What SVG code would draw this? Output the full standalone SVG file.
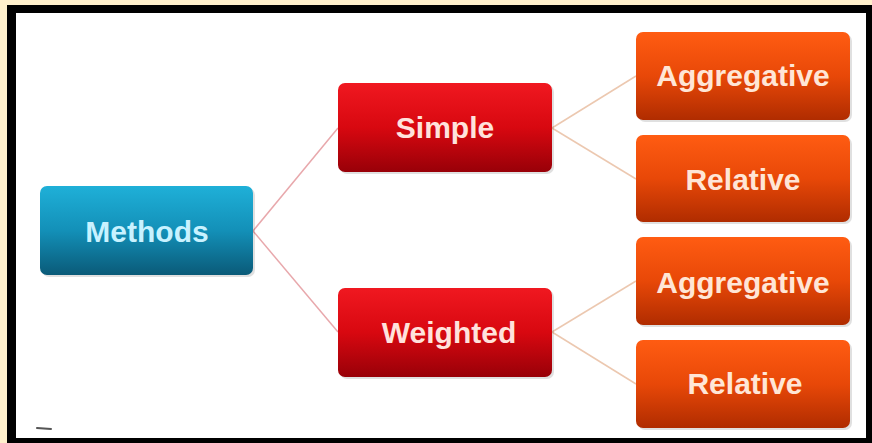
<svg xmlns="http://www.w3.org/2000/svg" width="872" height="443" viewBox="0 0 872 443">
<defs>
<linearGradient id="gTeal" x1="0" y1="0" x2="0" y2="1">
<stop offset="0" stop-color="#1fb0d8"/>
<stop offset="0.5" stop-color="#1390b8"/>
<stop offset="1" stop-color="#0a5a78"/>
</linearGradient>
<linearGradient id="gRed" x1="0" y1="0" x2="0" y2="1">
<stop offset="0" stop-color="#f01820"/>
<stop offset="0.5" stop-color="#d80810"/>
<stop offset="1" stop-color="#980008"/>
</linearGradient>
<linearGradient id="gOrange" x1="0" y1="0" x2="0" y2="1">
<stop offset="0" stop-color="#ff5c12"/>
<stop offset="0.5" stop-color="#e84808"/>
<stop offset="1" stop-color="#b02c00"/>
</linearGradient>
</defs>
<style>
.shadow{fill:#000;opacity:0.12}
.lbl{font-family:"Liberation Sans",Arial,sans-serif;font-size:30px;font-weight:bold;text-anchor:middle}
.tTeal{fill:#c8f2ff}
.tRed{fill:#ffe2dc}
.tOrange{fill:#ffe6d6}
.c1{stroke:#e8a8ac;stroke-width:1.5;fill:none}
.c2{stroke:#ecc8b0;stroke-width:1.5;fill:none}
</style>
<rect x="0" y="0" width="872" height="443" fill="#fff0cc"/>
<rect x="7" y="5" width="865" height="438" fill="#000"/>
<rect x="16" y="13" width="850" height="425" fill="#fff"/>
<g id="connectors">
<line class="c1" x1="253" y1="231" x2="338" y2="128"/>
<line class="c1" x1="253" y1="231" x2="338" y2="332"/>
<line class="c2" x1="552" y1="128" x2="636" y2="76"/>
<line class="c2" x1="552" y1="128" x2="636" y2="179"/>
<line class="c2" x1="552" y1="332" x2="636" y2="281"/>
<line class="c2" x1="552" y1="332" x2="636" y2="384"/>
</g>
<g id="methods">
<rect class="shadow" x="42" y="188" width="213" height="89" rx="7"/>
<rect x="40" y="186" width="213" height="89" rx="7" fill="url(#gTeal)"/>
<text class="lbl tTeal" x="147" y="242">Methods</text>
</g>
<g id="simple">
<rect class="shadow" x="340" y="85" width="214" height="89" rx="7"/>
<rect x="338" y="83" width="214" height="89" rx="7" fill="url(#gRed)"/>
<text class="lbl tRed" x="445" y="138">Simple</text>
</g>
<g id="weighted">
<rect class="shadow" x="340" y="290" width="214" height="89" rx="7"/>
<rect x="338" y="288" width="214" height="89" rx="7" fill="url(#gRed)"/>
<text class="lbl tRed" x="449" y="343">Weighted</text>
</g>
<g id="aggregative1">
<rect class="shadow" x="638" y="34" width="214" height="88" rx="7"/>
<rect x="636" y="32" width="214" height="88" rx="7" fill="url(#gOrange)"/>
<text class="lbl tOrange" x="743" y="86">Aggregative</text>
</g>
<g id="relative1">
<rect class="shadow" x="638" y="137" width="214" height="87" rx="7"/>
<rect x="636" y="135" width="214" height="87" rx="7" fill="url(#gOrange)"/>
<text class="lbl tOrange" x="743" y="190">Relative</text>
</g>
<g id="aggregative2">
<rect class="shadow" x="638" y="239" width="214" height="88" rx="7"/>
<rect x="636" y="237" width="214" height="88" rx="7" fill="url(#gOrange)"/>
<text class="lbl tOrange" x="743" y="293">Aggregative</text>
</g>
<g id="relative2">
<rect class="shadow" x="638" y="342" width="214" height="88" rx="7"/>
<rect x="636" y="340" width="214" height="88" rx="7" fill="url(#gOrange)"/>
<text class="lbl tOrange" x="745" y="394">Relative</text>
</g>
<line x1="37" y1="428" x2="51" y2="429" stroke="#555" stroke-width="2" stroke-linecap="round"/>
</svg>
